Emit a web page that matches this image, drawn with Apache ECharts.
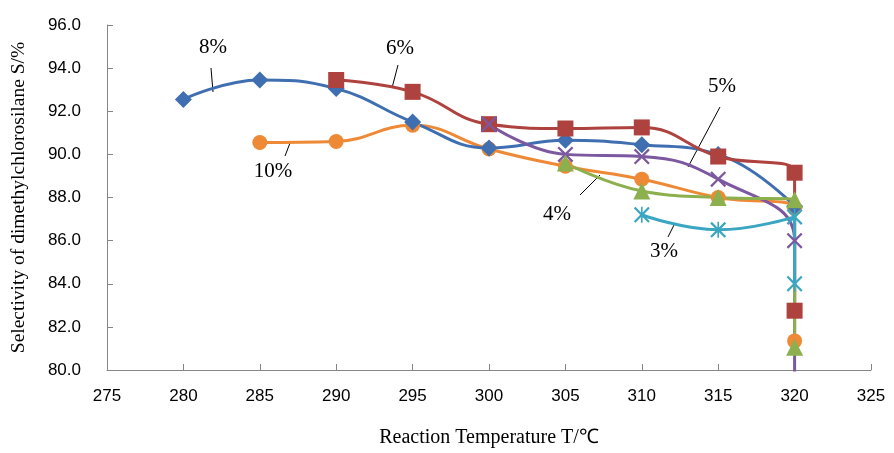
<!DOCTYPE html>
<html>
<head>
<meta charset="utf-8">
<script src="https://cdn.jsdelivr.net/npm/echarts@6/dist/echarts.min.js"></script>
<style>html,body{margin:0;padding:0;background:#fff}#c{width:894px;height:453px}</style>
</head>
<body>
<div id="c"></div>
<script>
// Data (temperature °C, selectivity %)
var s10 = [[285, 90.55], [290, 90.6], [295, 91.35], [300, 90.25], [305, 89.45], [310, 88.85], [315, 88.0], [320, 87.5], [320, 81.35]];
var s8  = [[280, 92.55], [285, 93.45], [290, 93.05], [295, 91.5], [300, 90.3], [305, 90.65], [310, 90.45], [315, 90.0], [320, 87.6]];
var s6  = [[290, 93.45], [295, 92.9], [300, 91.4], [305, 91.2], [310, 91.25], [315, 89.9], [320, 89.15], [320, 82.75]];
var s5  = [[300, 91.4], [305, 90.0], [310, 89.9], [315, 88.85], [320, 86.0], [320, 79.0]];
var s4  = [[305, 89.6], [310, 88.3], [315, 88.0], [320, 87.9], [320, 81.05]];
var s3  = [[310, 87.2], [315, 86.5], [320, 87.1], [320, 84.0]];
var xTicks = {min: 275, max: 325, interval: 5};
var yTicks = {min: 80, max: 96, interval: 2};

var crossPath = 'path://M0,2 L2,0 L10,8 L18,0 L20,2 L12,10 L20,18 L18,20 L10,12 L2,20 L0,18 L8,10 Z';
var starPath = 'path://M0,2 L2,0 L10,8 L18,0 L20,2 L12,10 L20,18 L18,20 L10,12 L2,20 L0,18 L8,10 Z M9,0 L11,0 L11,20 L9,20 Z';

function mk(name, data, color, symbol, size) {
  return {
    name: name, type: 'line', data: data, smooth: 0.45, clip: true,
    symbol: symbol, symbolSize: size, showSymbol: true,
    lineStyle: {color: color, width: 3},
    itemStyle: {color: color},
    emphasis: {disabled: true}
  };
}

var chart = echarts.init(document.getElementById('c'), null, {renderer: 'canvas'});
var serif = 'Liberation Serif';
var sans = 'Liberation Sans';
function label(t, x, y) {
  return {type: 'text', x: x, y: y, style: {text: t, font: '21px ' + serif, fill: '#000', align: 'center', verticalAlign: 'middle'}};
}
function leader(x1, y1, x2, y2) {
  return {type: 'line', shape: {x1: x1, y1: y1, x2: x2, y2: y2}, style: {stroke: '#000', lineWidth: 1}};
}
chart.setOption({
  animation: false,
  grid: {left: 107, right: 23, top: 25, bottom: 83},
  xAxis: {
    type: 'value', min: xTicks.min, max: xTicks.max, interval: xTicks.interval,
    name: 'Reaction Temperature T/\u2103', nameLocation: 'middle', nameGap: 58,
    nameTextStyle: {fontFamily: serif, fontSize: 20, color: '#000'},
    axisLine: {lineStyle: {color: '#868686', width: 1}},
    axisTick: {inside: true, length: 6, lineStyle: {color: '#868686'}},
    axisLabel: {fontFamily: sans, fontSize: 17, color: '#000', margin: 18},
    splitLine: {show: false}
  },
  yAxis: {
    type: 'value', min: yTicks.min, max: yTicks.max, interval: yTicks.interval,
    name: 'Selectivity of dimethylchlorosilane S/%', nameLocation: 'middle', nameGap: 78,
    nameTextStyle: {fontFamily: serif, fontSize: 19.5, color: '#000'},
    axisLine: {show: true, lineStyle: {color: '#868686', width: 1}},
    axisTick: {show: true, inside: true, length: 6, lineStyle: {color: '#868686'}},
    axisLabel: {fontFamily: sans, fontSize: 17, color: '#000', margin: 26, formatter: function (v) { return v.toFixed(1); }},
    splitLine: {show: false}
  },
  series: [
    mk('10%', s10, '#EE8A36', 'circle', 15),
    mk('8%', s8, '#3F6FB0', 'diamond', 17),
    mk('6%', s6, '#AE423E', 'rect', 16),
    mk('5%', s5, '#7B58A0', crossPath, 16),
    mk('4%', s4, '#8DB04E', 'triangle', 17),
    mk('3%', s3, '#3AA6C2', starPath, 16)
  ],
  graphic: [
    label('8%', 213, 47), label('6%', 400, 48), label('10%', 273, 171),
    label('5%', 722, 86), label('4%', 557, 214), label('3%', 664, 251),
    leader(211, 68, 213, 92), leader(398, 65, 392, 88), leader(290, 143, 285, 156),
    leader(720, 107, 688, 167), leader(600, 175, 580, 195), leader(675, 223, 668, 237)
  ]
});
</script>
</body>
</html>
